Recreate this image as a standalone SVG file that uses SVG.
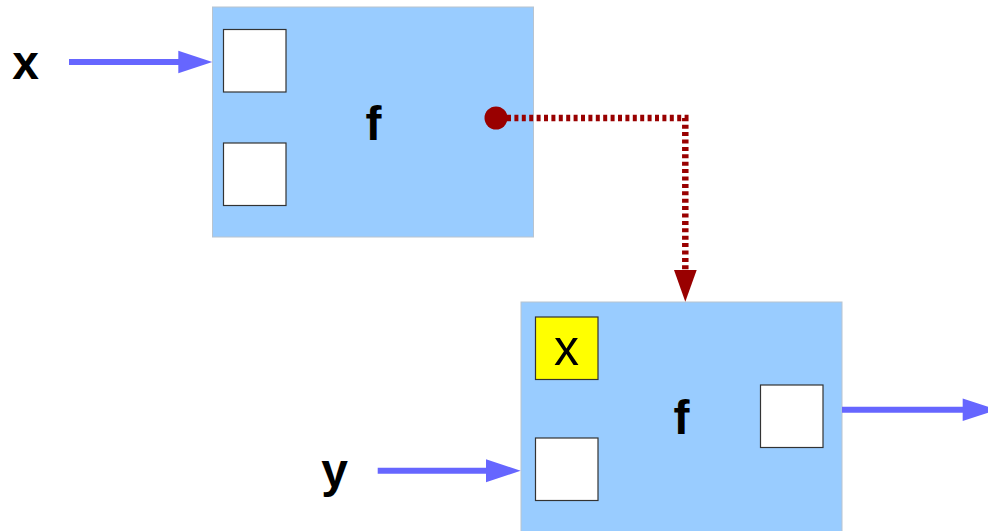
<svg xmlns="http://www.w3.org/2000/svg" width="988" height="531" viewBox="0 0 988 531">
<style>
.box{fill:#99ccff;stroke:#b8c4d0;stroke-width:1}
.sq{fill:#ffffff;stroke:#333333;stroke-width:1.2}
.ysq{fill:#ffff00;stroke:#333333;stroke-width:1.2}
.lbl{font-family:"Liberation Sans",Arial,sans-serif;font-weight:bold;font-size:48px;fill:#000;text-anchor:middle}
.reg{font-family:"Liberation Sans",Arial,sans-serif;font-size:50px;fill:#000;text-anchor:middle}
.blue{stroke:#6666ff;stroke-width:6;fill:none}
.bhead{fill:#6666ff}
.red{stroke:#990000;stroke-width:6.5;fill:none;stroke-dasharray:4 3.4}
</style>
<rect width="988" height="531" fill="#ffffff"/>
<g id="node-f1">
<rect class="box" x="212.5" y="7" width="321" height="230"/>
<rect class="sq" x="223.5" y="29.5" width="62.5" height="62.5"/>
<rect class="sq" x="223.5" y="143" width="62.5" height="62.5"/>
<text class="lbl" x="373.5" y="140">f</text>
</g>
<g id="node-f2">
<rect class="box" x="521" y="302" width="321" height="240"/>
<rect class="ysq" x="535.5" y="317" width="62.5" height="62.5"/>
<text class="reg" x="566.5" y="365">x</text>
<rect class="sq" x="535.5" y="438" width="62.5" height="62.5"/>
<rect class="sq" x="760.5" y="385" width="62.5" height="62.5"/>
<text class="lbl" x="681.5" y="434">f</text>
</g>
<g id="label-x">
<text class="lbl" x="25.5" y="79">x</text>
</g>
<g id="label-y">
<text class="lbl" x="334.5" y="487">y</text>
</g>
<g id="connectors">
<line class="blue" x1="69" y1="62" x2="180" y2="62"/>
<polygon class="bhead" points="178.3,50.7 212.3,62 178.3,73.3"/>
<line class="blue" x1="377.7" y1="470.7" x2="488" y2="470.7"/>
<polygon class="bhead" points="486,459.2 520.7,470.7 486,482.2"/>
<line class="blue" x1="842" y1="409.7" x2="965" y2="409.7"/>
<polygon class="bhead" points="962.7,398.5 997,409.7 962.7,421"/>
<circle cx="496" cy="118" r="11.5" fill="#990000"/>
<path class="red" d="M507,118 H685.3 V270"/>
<polygon fill="#990000" points="674,270 696.7,270 685.3,301.7"/>
</g>
</svg>
